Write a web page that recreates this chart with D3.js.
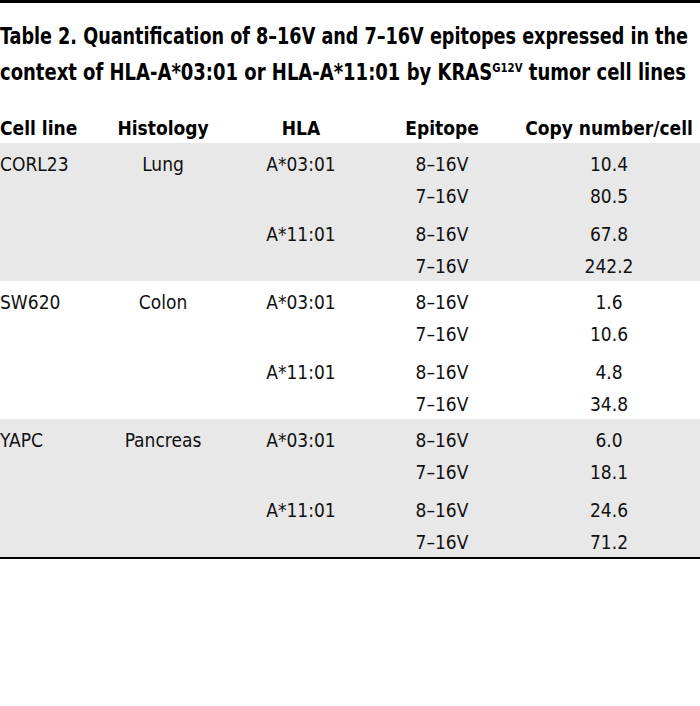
<!DOCTYPE html>
<html><head><meta charset="utf-8">
<script src="https://cdn.jsdelivr.net/npm/d3@7"></script>
<style>body{margin:0;background:#fff}</style>
</head><body><div id="chart"></div>
<script>
const width = 700, height = 706;
const headers = ["Cell line", "Histology", "HLA", "Epitope", "Copy number/cell"];
const cellLines = ["CORL23", "SW620", "YAPC"];
const histologies = ["Lung", "Colon", "Pancreas"];
const hlas = ["A*03:01", "A*11:01"];
const epitopes = ["8–16V", "7–16V"];
const copyNumbers = ["10.4", "80.5", "67.8", "242.2", "1.6", "10.6", "4.8", "34.8", "6.0", "18.1", "24.6", "71.2"];

const font = "'Liberation Sans Narrow', 'DejaVu Sans Condensed', sans-serif";
const svg = d3.select("#chart").append("svg")
    .attr("width", width).attr("height", height)
    .style("font-family", font);

// top rule
svg.append("rect").attr("x", 0).attr("y", 0).attr("width", width).attr("height", 3).attr("fill", "#000");

// title, squeezed to the reference's line widths
svg.append("text").attr("x", 0).attr("y", 44).attr("font-size", 23).attr("font-weight", "bold")
    .attr("textLength", 688).attr("lengthAdjust", "spacingAndGlyphs")
    .text("Table 2. Quantification of 8–16V and 7–16V epitopes expressed in the");
const title2 = svg.append("text").attr("x", 0).attr("y", 80).attr("font-size", 23).attr("font-weight", "bold")
    .attr("textLength", 686).attr("lengthAdjust", "spacingAndGlyphs");
title2.append("tspan").text("context of HLA-A*03:01 or HLA-A*11:01 by KRAS");
title2.append("tspan").attr("font-size", 13).attr("dy", -8).text("G12V");
title2.append("tspan").attr("dy", 8).text(" tumor cell lines");

const colX = [0, 163, 301, 442, 609];
const anchors = ["start", "middle", "middle", "middle", "middle"];

// header
svg.append("g").selectAll("text").data(headers).join("text")
    .attr("x", (d, i) => colX[i]).attr("y", 135)
    .attr("text-anchor", (d, i) => anchors[i])
    .attr("font-size", 19).attr("font-weight", "bold").text(d => d);

// row layout: each cell line block has 4 rows
const blockY = d3.scaleLinear().domain([0, 1]).range([143, 281]);
const blockH = blockY(1) - blockY(0);
const rowY = (b, h, e) => blockY(b) + 28 + h * 70 + e * 32;

cellLines.forEach((c, b) => {
  if (b % 2 === 0)
    svg.append("rect").attr("x", 0).attr("y", blockY(b)).attr("width", width).attr("height", blockH).attr("fill", "#e8e8e8");
});

const g = svg.append("g").attr("font-size", 19).attr("fill", "#111");
cellLines.forEach((c, b) => {
  g.append("text").attr("x", colX[0]).attr("y", rowY(b, 0, 0)).text(c);
  g.append("text").attr("x", colX[1]).attr("y", rowY(b, 0, 0)).attr("text-anchor", "middle").text(histologies[b]);
  hlas.forEach((h, hi) => {
    g.append("text").attr("x", colX[2]).attr("y", rowY(b, hi, 0)).attr("text-anchor", "middle").text(h);
    epitopes.forEach((e, ei) => {
      g.append("text").attr("x", colX[3]).attr("y", rowY(b, hi, ei)).attr("text-anchor", "middle").text(e);
      g.append("text").attr("x", colX[4]).attr("y", rowY(b, hi, ei)).attr("text-anchor", "middle")
        .text(copyNumbers[b * 4 + hi * 2 + ei]);
    });
  });
});

// bottom rule
svg.append("rect").attr("x", 0).attr("y", blockY(3)).attr("width", width).attr("height", 2).attr("fill", "#000");
</script></body></html>
